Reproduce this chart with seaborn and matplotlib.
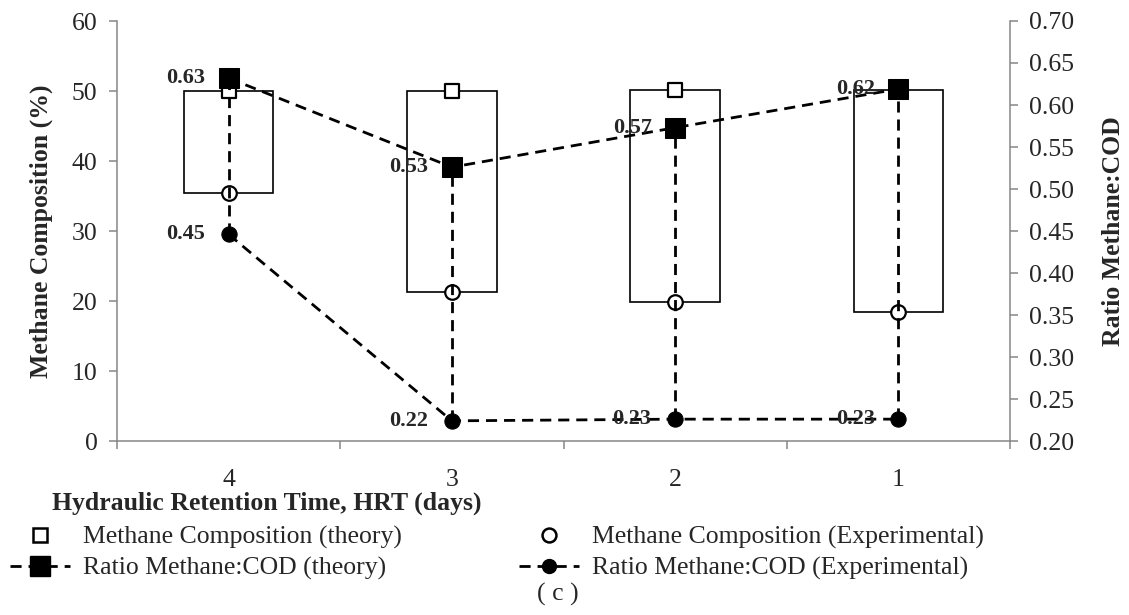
import numpy as np
import pandas as pd
import matplotlib
matplotlib.use('Agg')
import matplotlib.pyplot as plt
from matplotlib.lines import Line2D
import seaborn as sns

# Data
hrt_labels = ['4', '3', '2', '1']
ch4_theory = [50.0, 50.0, 50.2, 50.2]
ch4_exp = [35.4, 21.3, 19.9, 18.4]
ratio_theory = [0.632, 0.526, 0.573, 0.619]
ratio_exp = [0.446, 0.224, 0.226, 0.226]
ratio_theory_txt = ['0.63', '0.53', '0.57', '0.62']
ratio_exp_txt = ['0.45', '0.22', '0.23', '0.23']

df = pd.DataFrame({
    'pos': np.arange(len(hrt_labels)),
    'hrt': hrt_labels,
    'ch4_theory': ch4_theory,
    'ch4_exp': ch4_exp,
    'ratio_theory': ratio_theory,
    'ratio_exp': ratio_exp,
})

sns.set_style('ticks')
plt.rcParams['font.family'] = ['Liberation Serif', 'DejaVu Serif']

grey = '#868686'
dash = (0, (4, 2.5))
fs = 18.5

fig, ax = plt.subplots(figsize=(11.29, 6.15), dpi=100)
fig.subplots_adjust(left=117 / 1129, right=1010 / 1129, top=1 - 21 / 615, bottom=1 - 441 / 615)

# up/down boxes between experimental and theoretical composition
ax.bar(df['pos'], df['ch4_theory'] - df['ch4_exp'], bottom=df['ch4_exp'], width=0.4,
       color='white', edgecolor='black', linewidth=1.2, zorder=2)
sns.scatterplot(data=df, x='pos', y='ch4_theory', marker='s', s=100, color='white',
                edgecolor='black', linewidth=1.6, ax=ax, zorder=3)
sns.scatterplot(data=df, x='pos', y='ch4_exp', marker='o', s=110, color='white',
                edgecolor='black', linewidth=1.6, ax=ax, zorder=3)

ax.set_xlim(-0.5, len(hrt_labels) - 0.5)
ax.set_ylim(0, 60)
ax.set_yticks(range(0, 61, 10))
ax.set_xticks(np.arange(-0.5, len(hrt_labels), 1))
ax.set_xticklabels([])
ax.set_xticks(df['pos'], minor=True)
ax.set_xticklabels(hrt_labels, minor=True)
ax.tick_params(axis='x', which='minor', length=0, pad=20, labelsize=fs)
ax.tick_params(axis='x', which='major', length=6, width=1.1, color=grey)
ax.tick_params(axis='y', length=6, width=1.1, color=grey, labelsize=fs, pad=8)

# ratio axis
ax2 = ax.twinx()
ax2.vlines(df['pos'], df['ratio_exp'], df['ratio_theory'], colors='black',
           linestyles=dash, linewidth=2, zorder=2)
sns.lineplot(data=df, x='pos', y='ratio_theory', ax=ax2, color='black', marker='s',
             markersize=15, markeredgecolor='black', linewidth=2, linestyle=dash,
             errorbar=None, zorder=3)
sns.lineplot(data=df, x='pos', y='ratio_exp', ax=ax2, color='black', marker='o',
             markersize=11, markeredgecolor='black', linewidth=2, linestyle=dash,
             errorbar=None, zorder=3)
ax2.set_ylim(0.2, 0.7)
ax2.set_yticks(np.arange(0.2, 0.701, 0.05))
ax2.set_yticklabels([f'{v:.2f}' for v in np.arange(0.2, 0.701, 0.05)])
ax2.tick_params(axis='y', length=6, width=1.1, color=grey, labelsize=fs, pad=8)

for i, p in enumerate(df['pos']):
    ax2.annotate(ratio_theory_txt[i], (p, ratio_theory[i]), xytext=(-17, 0),
                 textcoords='offset points', ha='right', va='center',
                 fontweight='bold', fontsize=16)
    ax2.annotate(ratio_exp_txt[i], (p, ratio_exp[i]), xytext=(-17, 0),
                 textcoords='offset points', ha='right', va='center',
                 fontweight='bold', fontsize=16)

# spines
for s in ['top', 'right']:
    ax.spines[s].set_visible(False)
for s in ['top', 'left', 'bottom']:
    ax2.spines[s].set_visible(False)
for sp in [ax.spines['left'], ax.spines['bottom'], ax2.spines['right']]:
    sp.set_color(grey)
    sp.set_linewidth(1.1)

ax.set_xlabel('Hydraulic Retention Time, HRT (days)', fontweight='bold', fontsize=fs)
ax.xaxis.set_label_coords((267 - 117) / 893, (441 - 492) / 420)
ax.set_ylabel('Methane Composition (%)', fontweight='bold', fontsize=fs)
ax.yaxis.set_label_coords(-0.072, 0.5)
ax2.set_ylabel('Ratio Methane:COD', fontweight='bold', fontsize=fs)
ax2.yaxis.set_label_coords(1.103, 0.5)

# legend below the chart
handles = [
    Line2D([], [], linestyle='none', marker='s', markersize=10, mfc='white', mec='black', mew=1.8),
    Line2D([], [], linestyle=dash, lw=2, color='black', marker='s', markersize=14),
    Line2D([], [], linestyle='none', marker='o', markersize=10, mfc='white', mec='black', mew=1.8),
    Line2D([], [], linestyle=dash, lw=2, color='black', marker='o', markersize=10),
]
labels = ['Methane Composition (theory)', 'Ratio Methane:COD (theory)',
          'Methane Composition (Experimental)', 'Ratio Methane:COD (Experimental)']
fig.legend(handles, labels, ncol=2, loc='upper left', bbox_to_anchor=(10 / 1129, 1 - 526 / 615),
           frameon=False, fontsize=fs, handlelength=2.35, handletextpad=0.5,
           columnspacing=4.55, labelspacing=0.28, borderpad=0, borderaxespad=0)

fig.text(558 / 1129, 1 - 594 / 615, '( c )', ha='center', va='center', fontsize=fs)

fig.savefig('out.png', dpi=100)
